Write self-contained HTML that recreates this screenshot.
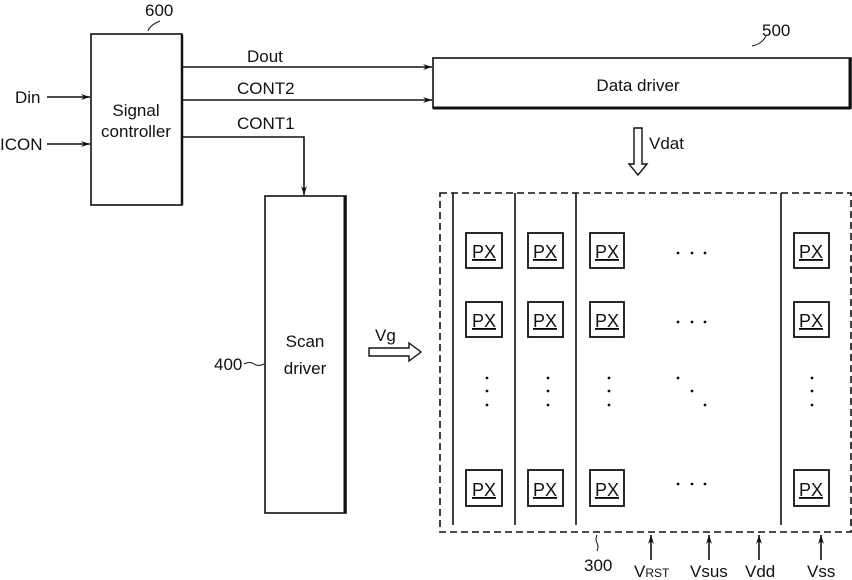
<!DOCTYPE html>
<html><head><style>body{margin:0;background:#fff}svg{display:block}text{font-family:"Liberation Sans Narrow","Liberation Sans",sans-serif;fill:#111}</style></head><body>
<svg width="852" height="580" viewBox="0 0 852 580" xmlns="http://www.w3.org/2000/svg">
<defs><marker id="a" markerWidth="10" markerHeight="8" refX="9" refY="4" orient="auto" markerUnits="userSpaceOnUse"><path d="M0,1 L9,4 L0,7 L3,4Z" fill="#111"/></marker></defs>
<g stroke="#111" fill="none" stroke-width="1.6">
<rect x="91" y="34" width="91" height="171"/>
<line x1="182" y1="35" x2="182" y2="205" stroke-width="2.5"/>
<rect x="433" y="58" width="418" height="50"/>
<line x1="433" y1="108" x2="851" y2="108" stroke-width="3"/>
<line x1="850" y1="58" x2="850" y2="108" stroke-width="3"/>
<rect x="265" y="196" width="81" height="317"/>
<line x1="345" y1="196" x2="345" y2="513" stroke-width="3"/>
<line x1="47" y1="97" x2="90" y2="97" marker-end="url(#a)"/>
<line x1="47" y1="144" x2="90" y2="144" marker-end="url(#a)"/>
<line x1="182" y1="67" x2="432" y2="67" marker-end="url(#a)"/>
<line x1="182" y1="100" x2="432" y2="100" marker-end="url(#a)"/>
<polyline points="182,137 304,137 304,195" marker-end="url(#a)"/>
<path d="M148,31 q2,-6 12,-10" stroke-width="1"/>
<path d="M752,46 q10,-2 14,-10" stroke-width="1"/>
<path d="M244,364 q6,-3 10,0 q4,3 10,0" stroke-width="1"/>
<path d="M634,128 h8 v36 h5 l-9,11 l-9,-11 h5z" stroke-width="1.4"/>
<path d="M369,348 h40 v-5 l12,9 l-12,9 v-5 h-40z" stroke-width="1.4"/>
<rect x="440" y="193" width="411" height="339" stroke-dasharray="7,4"/>
<line x1="453" y1="193" x2="453" y2="525"/>
<line x1="515" y1="193" x2="515" y2="525"/>
<line x1="576" y1="193" x2="576" y2="525"/>
<line x1="781" y1="193" x2="781" y2="525"/>
<line x1="651" y1="560" x2="651" y2="535" marker-end="url(#a)"/>
<line x1="709" y1="560" x2="709" y2="535" marker-end="url(#a)"/>
<line x1="759" y1="560" x2="759" y2="535" marker-end="url(#a)"/>
<line x1="821" y1="560" x2="821" y2="535" marker-end="url(#a)"/>
<path d="M597,535 q-2,4 0,8 q2,4 0,8" stroke-width="1"/>
</g>
<g stroke="#111" fill="none" stroke-width="1.8">
<rect x="466" y="233" width="36" height="35"/><rect x="528" y="233" width="35" height="35"/><rect x="590" y="233" width="34" height="35"/><rect x="794" y="233" width="35" height="35"/>
<rect x="466" y="302" width="36" height="35"/><rect x="528" y="302" width="35" height="35"/><rect x="590" y="302" width="34" height="35"/><rect x="794" y="302" width="35" height="35"/>
<rect x="466" y="470" width="36" height="36"/><rect x="528" y="470" width="35" height="36"/><rect x="590" y="470" width="34" height="36"/><rect x="794" y="470" width="35" height="36"/>
</g>
<g font-size="18" text-anchor="middle" text-decoration="underline">
<text x="484" y="258">PX</text><text x="545" y="258">PX</text><text x="607" y="258">PX</text><text x="811" y="258">PX</text>
<text x="484" y="327">PX</text><text x="545" y="327">PX</text><text x="607" y="327">PX</text><text x="811" y="327">PX</text>
<text x="484" y="496">PX</text><text x="545" y="496">PX</text><text x="607" y="496">PX</text><text x="811" y="496">PX</text>
</g>
<g fill="#111">
<circle cx="678" cy="253" r="1.4"/><circle cx="692" cy="253" r="1.4"/><circle cx="705" cy="253" r="1.4"/>
<circle cx="678" cy="322" r="1.4"/><circle cx="692" cy="322" r="1.4"/><circle cx="705" cy="322" r="1.4"/>
<circle cx="678" cy="484" r="1.4"/><circle cx="692" cy="484" r="1.4"/><circle cx="705" cy="484" r="1.4"/>
<circle cx="487" cy="378" r="1.4"/><circle cx="487" cy="391" r="1.4"/><circle cx="487" cy="405" r="1.4"/>
<circle cx="548" cy="378" r="1.4"/><circle cx="548" cy="391" r="1.4"/><circle cx="548" cy="405" r="1.4"/>
<circle cx="609" cy="378" r="1.4"/><circle cx="609" cy="391" r="1.4"/><circle cx="609" cy="405" r="1.4"/>
<circle cx="678" cy="378" r="1.4"/><circle cx="692" cy="391" r="1.4"/><circle cx="705" cy="405" r="1.4"/>
<circle cx="812" cy="378" r="1.4"/><circle cx="812" cy="391" r="1.4"/><circle cx="812" cy="405" r="1.4"/>
</g>
<g font-size="17">
<text x="145" y="16">600</text>
<text x="762" y="36">500</text>
<text x="15" y="103">Din</text>
<text x="0" y="150">ICON</text>
<text x="136" y="116" text-anchor="middle">Signal</text>
<text x="136" y="137" text-anchor="middle">controller</text>
<text x="247" y="62">Dout</text>
<text x="237" y="94">CONT2</text>
<text x="237" y="129">CONT1</text>
<text x="638" y="91" text-anchor="middle">Data driver</text>
<text x="649" y="149">Vdat</text>
<text x="305" y="347" text-anchor="middle">Scan</text>
<text x="305" y="374" text-anchor="middle">driver</text>
<text x="214" y="370">400</text>
<text x="375" y="341">Vg</text>
<text x="584" y="571">300</text>
<text x="634" y="577">V<tspan font-size="12">RST</tspan></text>
<text x="690" y="577">Vsus</text>
<text x="745" y="577">Vdd</text>
<text x="807" y="577">Vss</text>
</g>
</svg>
</body></html>
